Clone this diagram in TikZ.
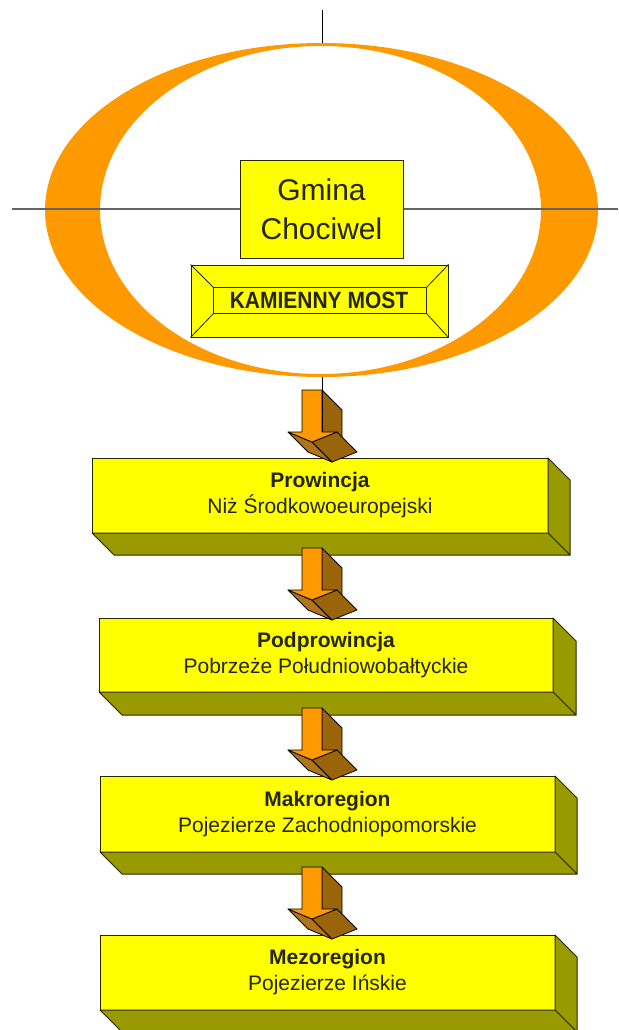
\documentclass[tikz,border=0pt]{standalone}
\usepackage{fontspec}
\usepackage{graphicx}
\setmainfont{Liberation Sans}
\definecolor{ringorange}{RGB}{255,153,0}
\definecolor{boxyellow}{RGB}{255,255,0}
\definecolor{boxolive}{RGB}{153,153,0}
\definecolor{edgedark}{RGB}{40,40,0}
\definecolor{txtdark}{RGB}{38,38,0}
\definecolor{arrbrown}{RGB}{153,100,10}
\definecolor{arrbrownlight}{RGB}{176,116,28}
\definecolor{axisgray}{RGB}{100,100,100}
\tikzset{
  frontface/.style={draw=edgedark, line width=1pt, fill=boxyellow, inner sep=0pt, outer sep=0pt, text=txtdark, align=center},
  sideface/.style={draw=edgedark, line width=1pt, fill=boxolive, line join=round},
  boxtext/.style={font=\fontsize{21}{26}\selectfont},
  pics/arrowthreed/.style={code={
    \filldraw[draw=black, line width=0.8pt, fill=arrbrown, line join=round] (20,0) -- (40,20) -- (40,62) -- (20,42) -- cycle;
    \filldraw[draw=black, line width=0.8pt, fill=arrbrownlight, line join=round] (-14,42) -- (10,52) -- (30,72) -- (6,62) -- cycle;
    \filldraw[draw=black, line width=0.8pt, fill=arrbrown, line join=round] (35,42) -- (10,52) -- (30,72) -- (55,62) -- cycle;
    \filldraw[draw=black, line width=0.8pt, fill=ringorange, line join=round] (0,0) -- (20,0) -- (20,42) -- (35,42) -- (10,52) -- (-14,42) -- (0,42) -- cycle;
  }}
}
\newcommand{\threedbox}[2]{%
  \filldraw[sideface] (#1.north east) -- ++(#2,#2) -- ($(#1.south east)+(#2,#2)$) -- (#1.south east) -- cycle;
  \filldraw[sideface] (#1.south west) -- (#1.south east) -- ++(#2,#2) -- ($(#1.south west)+(#2,#2)$) -- cycle;
}
\usetikzlibrary{calc}
\begin{document}
\begin{tikzpicture}[x=1pt, y=-1pt]
\useasboundingbox (0,0) rectangle (618,1030);
\fill[white] (0,0) rectangle (618,1030);

% ring
\fill[ringorange, even odd rule] (321.5,210) ellipse [x radius=276.5pt, y radius=167pt]
  (320.5,210) ellipse [x radius=220.5pt, y radius=164pt];

% axis lines
\coordinate (hl) at (12,209);
\coordinate (hr) at (618,209);
\draw[axisgray, line width=2pt] (hl) -- (hr);
\coordinate (vtop) at (322,10);
\coordinate (etop) at (322,43);
\draw[black, line width=1pt] (vtop) -- (etop);

% Gmina box
\node[frontface, minimum width=163pt, minimum height=98pt, font=\fontsize{30}{39}\selectfont] (gmina) at (321.5,209) {Gmina\\Chociwel};

% Kamienny Most bevel
\node[draw=edgedark, line width=1pt, fill=boxyellow, inner sep=0pt, minimum width=257pt, minimum height=72pt] (km) at (319.5,301) {};
\coordinate (kmi1) at ($(km.north west)+(23,23)$);
\coordinate (kmi2) at ($(km.north east)+(-22,23)$);
\coordinate (kmi3) at ($(km.south east)+(-22,-24)$);
\coordinate (kmi4) at ($(km.south west)+(23,-24)$);
\draw[edgedark, line width=1pt] (kmi1) -- (kmi2) -- (kmi3) -- (kmi4) -- cycle;
\draw[edgedark, line width=0.8pt] (km.north west) -- (kmi1) (km.north east) -- (kmi2) (km.south east) -- (kmi3) (km.south west) -- (kmi4);
\node[text=txtdark, font=\bfseries\fontsize{21}{24}\selectfont] (kmt) at (319,300.5) {\scalebox{1}[1.12]{KAMIENNY MOST}};

% level boxes
\node[frontface, boxtext, minimum width=456pt, minimum height=75pt] (b1) at (320,495.5) {\textbf{Prowincja}\\Niż Środkowoeuropejski};
\threedbox{b1}{22}
\node[frontface, boxtext, minimum width=454pt, minimum height=74pt] (b2) at (326,655) {\textbf{Podprowincja}\\Pobrzeże Południowobałtyckie};
\threedbox{b2}{23}
\node[frontface, boxtext, minimum width=455pt, minimum height=76pt] (b3) at (327.5,814) {\textbf{Makroregion}\\Pojezierze Zachodniopomorskie};
\threedbox{b3}{22}
\node[frontface, boxtext, minimum width=455pt, minimum height=75pt] (b4) at (327.5,972.5) {\textbf{Mezoregion}\\Pojezierze Ińskie};
\threedbox{b4}{22}

% 3D arrows
\pic (a1) at (302,390) {arrowthreed};
\pic (a2) at (302,548) {arrowthreed};
\pic (a3) at (302,708) {arrowthreed};
\pic (a4) at (302,867) {arrowthreed};

% lower axis segment
\coordinate (ebot) at (322,377);
\coordinate (ashaft) at (322,432);
\draw[black, line width=1pt] (ebot) -- (ashaft);
\end{tikzpicture}
\end{document}
